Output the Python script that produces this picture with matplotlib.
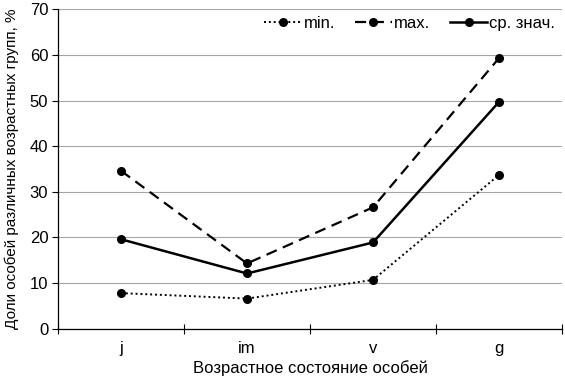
import matplotlib
matplotlib.use("Agg")
import matplotlib.pyplot as plt

plt.rcParams["font.family"] = ["Liberation Sans", "DejaVu Sans"]

categories = ["j", "im", "v", "g"]
min_vals = [7.8, 6.6, 10.7, 33.7]
max_vals = [34.6, 14.3, 26.6, 59.3]
mean_vals = [19.6, 12.1, 18.9, 49.7]

fig = plt.figure(figsize=(5.65, 3.82), dpi=100)
ax = fig.add_axes([0.1027, 0.1395, 0.892, 0.8362])

x = [i + 0.5 for i in range(len(categories))]
ax.plot(x, min_vals, color="black", linestyle=(0, (1, 1.5)), linewidth=1.4,
        marker="o", markersize=5.5, label="min.")
ax.plot(x, max_vals, color="black", linestyle=(0, (5, 3)), linewidth=1.6,
        marker="o", markersize=5.5, label="max.")
ax.plot(x, mean_vals, color="black", linestyle="-", linewidth=1.8,
        marker="o", markersize=5.5, label="ср. знач.")

ax.set_xlim(0, len(categories))
ax.set_ylim(0, 70)
ax.set_yticks(range(0, 71, 10))
ax.set_xticks(range(0, len(categories) + 1))
ax.set_xticklabels([])
ax.set_xticks(x, minor=True)
ax.set_xticklabels(categories, minor=True)
ax.tick_params(axis="x", which="major", direction="inout", length=7, width=0.8)
ax.tick_params(axis="x", which="minor", length=0, labelsize=12, pad=9)
ax.tick_params(axis="y", direction="out", length=4, width=0.8, labelsize=12, pad=3)

ax.grid(axis="y", color="#a6a6a6", linewidth=0.8)
ax.set_axisbelow(True)
for side in ("top", "right"):
    ax.spines[side].set_visible(False)
for side in ("left", "bottom"):
    ax.spines[side].set_linewidth(0.9)

ax.set_xlabel("Возрастное состояние особей", fontsize=12, labelpad=3)
ax.set_ylabel("Доли особей различных возрастных групп, %", fontsize=11, labelpad=8)

ax.legend(loc="upper right", bbox_to_anchor=(1.0, 1.0), ncol=3, frameon=False,
          fontsize=12, handlelength=2.2, handletextpad=0.15, columnspacing=1.2,
          borderaxespad=0.0)

fig.savefig("out.png", dpi=100)
